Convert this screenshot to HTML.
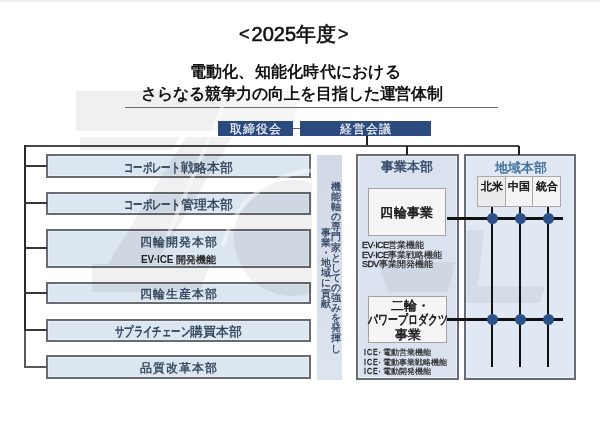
<!DOCTYPE html>
<html lang="ja">
<head>
<meta charset="utf-8">
<style>
html,body{margin:0;padding:0;background:#fff;}
body{width:600px;height:423px;position:relative;overflow:hidden;font-family:"Liberation Sans",sans-serif;color:#111;}
.a{position:absolute;}
.t{position:absolute;white-space:nowrap;line-height:1;z-index:60;}
.ln{position:absolute;background:#383838;z-index:60;}
.lb{position:absolute;left:46px;width:261px;border:2px solid #686c72;background:#dce6f1;box-shadow:inset 0 0 0 1px #e8eef6;box-sizing:content-box;}
.lbt{position:absolute;z-index:60;left:0;right:0;text-align:center;font-size:13px;color:#2d3e56;white-space:nowrap;line-height:1;-webkit-text-stroke:0.35px #2d3e56;}
.k{display:inline-block;transform:scaleX(.72);transform-origin:0 0;margin-right:-21.8px;-webkit-text-stroke:0.55px #2d3e56;}
.hdr{position:absolute;z-index:60;background:#2b4a7e;color:#f4f6fa;font-size:12px;letter-spacing:0.9px;text-indent:0.9px;text-align:center;line-height:16px;height:15px;overflow:hidden;-webkit-text-stroke:0.2px #f4f6fa;}
.ib{position:absolute;background:#f5f5f5;border:1px solid #a2a2a2;}
.sm{position:absolute;z-index:60;font-size:9px;line-height:9.5px;color:#1a1a1a;white-space:nowrap;-webkit-text-stroke:0.15px #1a1a1a;}
.sm b{font-weight:normal;letter-spacing:-0.6px;-webkit-text-stroke:0.3px #1a1a1a;}
.sm i{font-style:normal;font-size:8.5px;}
.sm2 i{font-size:8.1px;}
.vt{position:absolute;z-index:60;width:10px;font-size:10px;line-height:10.1px;word-break:break-all;line-break:anywhere;color:#2a3d5c;text-align:center;-webkit-text-stroke:0.25px #2a3d5c;}
.dot{position:absolute;z-index:61;width:11px;height:11px;border-radius:50%;background:#2e5088;}
</style>
</head>
<body>
<!-- watermark -->
<svg class="a" style="left:0;top:0;z-index:50;mix-blend-mode:multiply;pointer-events:none" width="600" height="423">
<defs><clipPath id="cl"><rect x="0" y="150" width="312" height="200"/></clipPath></defs>
<g fill="#f0f0f0">
<polygon points="76,91 224,91 214,131 76,131"/>
<polygon points="80,137 180,137 172,150 80,150"/>
<polygon points="186,137 232,137 140,290 92,290"/>
<polygon points="92,264 210,264 200,292 92,292"/>
<circle cx="292" cy="238" r="58" clip-path="url(#cl)"/>
</g>
<g fill="#f3f3f3">
<polygon points="378,262 455,262 448,292 388,292"/>
<polygon points="466,286 545,286 540,303 466,303"/>
<polygon points="466,230 484,230 478,286 466,286"/>
</g>
<g fill="#f5f5f5">
<polygon points="224,91 300,91 292,131 214,131"/>
</g>
</svg>
<svg class="a" style="left:0;top:0;z-index:51;pointer-events:none" width="600" height="423">
<g fill="none" stroke="#fff" stroke-opacity="0.45" stroke-width="4" stroke-linecap="round">
<path d="M223.4,244.1 A100,100 0 0 1 311.3,170.4"/>
<path d="M222,108 L168,235"/>
</g>
</svg>
<div class="a" style="left:0;top:0;width:600px;height:2px;background:linear-gradient(#e8e8e8,#f7f7f7);"></div>
<!-- titles -->
<div class="t" style="left:239px;top:24px;font-size:20px;color:#111;"><span style="margin-right:2px;font-size:18px;vertical-align:1px;-webkit-text-stroke:0.5px #111">&lt;</span><span style="-webkit-text-stroke:0.6px #111">2025年度</span><span style="margin-left:2px;font-size:18px;vertical-align:1px;-webkit-text-stroke:0.5px #111">&gt;</span></div>
<div class="t" style="left:189.5px;top:64px;font-size:16px;font-weight:bold;color:#111;letter-spacing:0.25px;">電動化、知能化時代における</div>
<div class="t" style="left:141px;top:85.5px;font-size:16px;font-weight:bold;color:#111;letter-spacing:-0.1px;">さらなる競争力の向上を目指した運営体制</div>

<div class="a" style="left:125px;top:107px;width:373px;height:1px;background:#6e6e6e;"></div>
<!-- header boxes -->
<div class="hdr" style="left:218px;top:121px;width:75px;">取締役会</div>
<div class="hdr" style="left:300px;top:121px;width:131px;">経営会議</div>
<div class="ln" style="left:293px;top:128px;width:7px;height:1px;background:#666;"></div>
<div class="ln" style="left:366px;top:136px;width:2px;height:10px;background:#222;"></div>

<!-- main lines -->
<div class="ln" style="left:24px;top:145px;width:495px;height:2px;background:#474747;"></div>
<div class="ln" style="left:24px;top:145px;width:2px;height:186px;background:#2a2a2a;"></div>
<div class="ln" style="left:24px;top:331px;width:2px;height:37px;background:#5a5a5a;"></div>
<div class="ln" style="left:406px;top:146px;width:2px;height:9px;background:#222;"></div>
<div class="ln" style="left:518px;top:146px;width:2px;height:9px;background:#222;"></div>
<div class="ln" style="left:24px;top:165px;width:23px;height:2px;"></div>
<div class="ln" style="left:24px;top:202px;width:23px;height:2px;"></div>
<div class="ln" style="left:24px;top:247px;width:23px;height:2px;"></div>
<div class="ln" style="left:24px;top:292px;width:23px;height:2px;"></div>
<div class="ln" style="left:24px;top:329px;width:23px;height:2px;"></div>
<div class="ln" style="left:24px;top:366px;width:23px;height:2px;background:#5a5a5a;"></div>

<!-- left boxes -->
<div class="lb" style="top:154px;height:20px;"><div class="lbt" style="top:5px;"><span class="k">コーポレート</span>戦略本部</div></div>
<div class="lb" style="top:192px;height:19px;"><div class="lbt" style="top:4px;"><span class="k">コーポレート</span>管理本部</div></div>
<div class="lb" style="top:229px;height:35px;"><div class="lbt" style="top:5px; letter-spacing:1px;text-indent:1px;font-size:12px;">四輪開発本部</div><div class="lbt" style="top:24px;font-size:10px;color:#222;-webkit-text-stroke:0.35px #222;"><b style="letter-spacing:-0.2px;-webkit-text-stroke:0">EV·ICE</b> 開発機能</div></div>
<div class="lb" style="top:282px;height:18px;"><div class="lbt" style="top:4px; letter-spacing:1px;text-indent:1px;font-size:12px;">四輪生産本部</div></div>
<div class="lb" style="top:319px;height:19px;"><div class="lbt" style="top:4px;"><span class="k" style="margin-right:-28.5px">サプライチェーン</span>購買本部</div></div>
<div class="lb" style="top:355px;height:20px;"><div class="lbt" style="top:5px; letter-spacing:1px;text-indent:1px;font-size:12px;">品質改革本部</div></div>

<!-- vertical band -->
<div class="a" style="left:317px;top:155px;width:25px;height:225px;background:linear-gradient(#d3d9e6,#d8dfeb 60%,#dde5f1);"></div>
<div class="vt" style="left:331px;top:182px;">機能軸の専門家としての強みを発揮し</div>
<div class="vt" style="left:321px;top:228px;">事業・地域に貢献</div>

<!-- right boxes -->
<div class="a" style="left:356px;top:154px;width:99px;height:222px;border:2px solid #686c72;background:#d9e2ee;box-shadow:inset 0 0 0 1px #edf2f8;"></div>
<div class="a" style="left:464px;top:154px;width:108px;height:222px;border:2px solid #686c72;background:#dfe8f3;box-shadow:inset 0 0 0 1px #edf2f8;"></div>
<div class="t" style="left:354px;width:105px;text-align:center;top:160px;font-size:13px;color:#34496a;-webkit-text-stroke:0.5px #34496a;">事業本部</div>
<div class="t" style="left:464px;width:114px;text-align:center;top:161px;font-size:13px;color:#3c6a98;-webkit-text-stroke:0.4px #3c6a98;">地域本部</div>

<div class="ib" style="left:368px;top:188px;width:76px;height:46px;"></div>
<div class="t" style="left:367px;width:80px;text-align:center;top:207px;font-size:12.5px;letter-spacing:0.3px;-webkit-text-stroke:0.5px #111;">四輪事業</div>
<div class="sm" style="left:362px;top:241px;"><b>EV·ICE</b><i>営業機能</i><br><b>EV·ICE</b><i>事業戦略機能</i><br><b>SDV</b><i>事業開発機能</i></div>

<div class="ib" style="left:368px;top:296px;width:77px;height:45px;"></div>
<div class="t" style="left:368px;width:80px;text-align:center;top:299px;font-size:12.5px;line-height:14.4px;white-space:normal;-webkit-text-stroke:0.45px #111;"><span style="margin-left:5px">二輪・</span><br><span style="display:inline-block;transform:scaleX(.76);margin:0 -12px;-webkit-text-stroke:0.6px #111;">パワープロダクツ</span><br>事業</div>
<div class="sm sm2" style="left:364px;top:348px;"><b style="font-weight:normal;letter-spacing:1.2px;display:inline-block;transform:scaleX(.78);transform-origin:0 0;margin-right:-4px;-webkit-text-stroke:0.35px #1a1a1a">ICE·</b><i>電動営業機能</i><br><b style="font-weight:normal;letter-spacing:1.2px;display:inline-block;transform:scaleX(.78);transform-origin:0 0;margin-right:-4px;-webkit-text-stroke:0.35px #1a1a1a">ICE·</b><i>電動事業戦略機能</i><br><b style="font-weight:normal;letter-spacing:1.2px;display:inline-block;transform:scaleX(.78);transform-origin:0 0;margin-right:-4px;-webkit-text-stroke:0.35px #1a1a1a">ICE·</b><i>電動開発機能</i></div>

<!-- region cells -->
<div class="ib" style="left:477px;top:176px;width:82px;height:29px;background:#f4f4f4;border-color:#a8a8a8;"></div><div class="a" style="left:478px;top:177px;width:27px;height:29px;background:#ebebeb;"></div>
<div class="a" style="left:505px;top:176px;width:1px;height:31px;background:#a8a8a8;"></div>
<div class="a" style="left:532px;top:176px;width:1px;height:31px;background:#a8a8a8;"></div>
<div class="t" style="left:478px;width:27px;text-align:center;top:181px;font-size:11px;-webkit-text-stroke:0.5px #111;">北米</div>
<div class="t" style="left:505px;width:27px;text-align:center;top:181px;font-size:11px;-webkit-text-stroke:0.5px #111;">中国</div>
<div class="t" style="left:533px;width:28px;text-align:center;top:181px;font-size:11px;-webkit-text-stroke:0.5px #111;">統合</div>

<!-- grid lines -->
<div class="ln" style="left:447px;top:217px;width:116px;height:3px;background:#111;"></div>
<div class="ln" style="left:447px;top:318px;width:116px;height:3px;background:#111;"></div>
<div class="ln" style="left:491px;top:207px;width:2px;height:160px;background:#111;"></div>
<div class="ln" style="left:519px;top:207px;width:2px;height:160px;background:#111;"></div>
<div class="ln" style="left:547px;top:207px;width:2px;height:160px;background:#111;"></div>
<div class="dot" style="left:487px;top:213px;"></div>
<div class="dot" style="left:515px;top:213px;"></div>
<div class="dot" style="left:543px;top:213px;"></div>
<div class="dot" style="left:487px;top:314px;"></div>
<div class="dot" style="left:515px;top:314px;"></div>
<div class="dot" style="left:543px;top:314px;"></div>
</body>
</html>
